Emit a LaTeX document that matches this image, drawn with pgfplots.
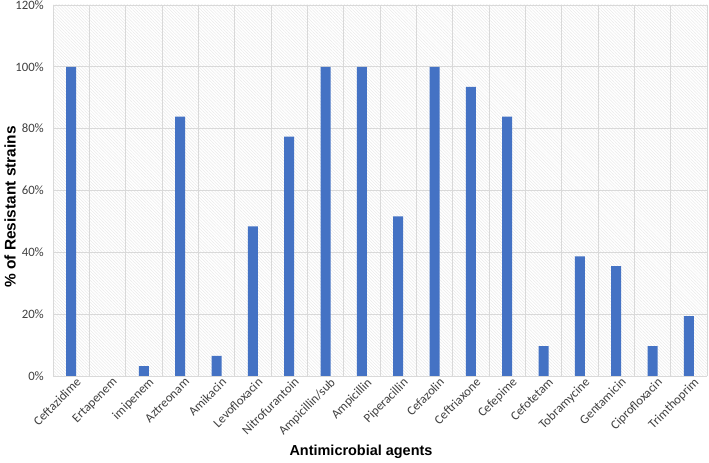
\documentclass[border=0pt]{standalone}
\usepackage{pgfplots}
\pgfplotsset{compat=1.18}
\usetikzlibrary{patterns.meta}
\usepackage{fontspec}
\setmainfont{Carlito}
\newfontfamily\arialb{Liberation Sans}
\definecolor{barblue}{HTML}{4472C4}
\definecolor{gridc}{HTML}{D9D9D9}
\begin{document}
\begin{tikzpicture}
\useasboundingbox (0,0) rectangle (709bp,463bp);
\begin{axis}[
  at={(53bp,87bp)}, anchor=south west,
  scale only axis, width=654bp, height=371bp,
  xmin=-0.5, xmax=17.5, ymin=0, ymax=120,
  xtick={0,...,17},
  xticklabels={Ceftazidime,Ertapenem,imipenem,Aztreonam,Amikacin,Levofloxacin,Nitrofurantoin,Ampicillin/sub,Ampicillin,Piperacillin,Cefazolin,Ceftriaxone,Cefepime,Cefotetam,Tobramycine,Gentamicin,Ciprofloxacin,Trimthoprim},
  minor xtick={-0.5,0.5,...,17.5},
  ytick={0,20,...,120},
  yticklabel={\pgfmathprintnumber{\tick}\%},
  /pgf/number format/assume math mode=true,
  xminorgrids, ymajorgrids,
  grid style={draw=gridc, line width=0.8pt},
  minor grid style={draw=gridc, line width=0.8pt},
  axis line style={draw=none},
  major tick length=0pt, minor tick length=0pt,
  tick label style={font=\fontsize{12.8}{14}\selectfont, text=black!75},
  xticklabel style={rotate=45, anchor=north east, inner sep=0.5pt, yshift=-3pt, xshift=3pt},
  yticklabel style={inner sep=2pt, xshift=-7pt},
  axis background/.style={fill=white, postaction={pattern={Lines[angle=-45, distance=2.2pt, line width=0.35pt]}, pattern color=gray!20}},
]
\addplot[ybar, bar width=10bp, fill=barblue, draw=none, restrict y to domain=0.001:1000] coordinates {
(0,100) (1,0) (2,3.2) (3,83.9) (4,6.5) (5,48.4) (6,77.4) (7,100) (8,100) (9,51.6) (10,100) (11,93.5) (12,83.9) (13,9.7) (14,38.7) (15,35.5) (16,9.7) (17,19.4)
};
\end{axis}
\node[font=\arialb\bfseries\fontsize{15.5}{17}\selectfont, rotate=90] at (10bp,256bp) {\% of Resistant strains};
\node[font=\arialb\bfseries\fontsize{14.5}{16}\selectfont] at (361bp,11bp) {Antimicrobial agents};
\end{tikzpicture}
\end{document}
